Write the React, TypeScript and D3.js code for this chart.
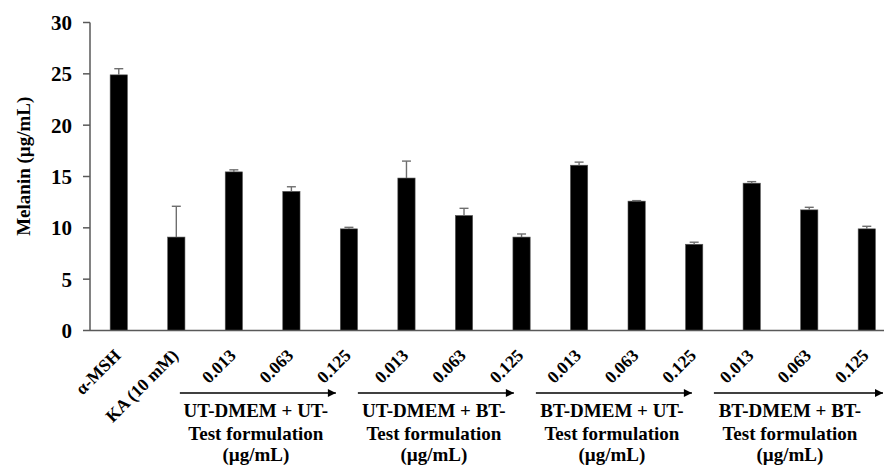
import React from "react";
import * as d3 from "d3";

const categories = [
  "α-MSH", "KA (10 mM)",
  "0.013", "0.063", "0.125",
  "0.013", "0.063", "0.125",
  "0.013", "0.063", "0.125",
  "0.013", "0.063", "0.125",
];
const values = [24.9, 9.1, 15.45, 13.55, 9.9, 14.85, 11.2, 9.1, 16.1, 12.6, 8.4, 14.35, 11.75, 9.9];
const errors = [0.6, 3.0, 0.2, 0.45, 0.15, 1.65, 0.7, 0.3, 0.3, 0.05, 0.2, 0.15, 0.25, 0.25];
const yTicks = [0, 5, 10, 15, 20, 25, 30];
const groupLines1 = ["UT-DMEM + UT-", "UT-DMEM + BT-", "BT-DMEM + UT-", "BT-DMEM + BT-"];
const groupLines2 = ["Test formulation", "Test formulation", "Test formulation", "Test formulation"];
const groupLines3 = ["(µg/mL)", "(µg/mL)", "(µg/mL)", "(µg/mL)"];
const groupFirstIndex = [2, 5, 8, 11];

const W = 884;
const H = 466;
const FONT = "Liberation Serif, Times New Roman, serif";
const ts = { fontFamily: FONT, fontWeight: 700 as const };

export default function App() {
  const x0 = 90;
  const step = 57.54;
  const x = d3
    .scaleBand<number>()
    .domain(d3.range(categories.length))
    .range([x0, x0 + step * categories.length])
    .paddingInner(0.7)
    .paddingOuter(0.35);
  const y = d3.scaleLinear().domain([0, 30]).range([330.5, 22.5]);
  const bw = x.bandwidth();
  const cx = (i: number) => (x(i) as number) + bw / 2;
  const axisColor = "#595959";

  return (
    <svg
      width={W}
      height={H}
      style={{ position: "absolute", left: 0, top: 0, background: "#fff" }}
    >
      <defs>
        <marker id="arr" viewBox="0 0 10 10" refX="10" refY="5" markerWidth="9" markerHeight="8" markerUnits="userSpaceOnUse" orient="auto">
          <path d="M0,0 L10,5 L0,10 z" fill="#000" />
        </marker>
      </defs>

      {/* bars */}
      {values.map((v, i) => (
        <rect
          key={"b" + i}
          x={x(i)}
          y={y(v)}
          width={bw}
          height={y(0) - y(v)}
          fill="#000"
          stroke="#555"
          strokeWidth={0.6}
        />
      ))}
      {/* error bars */}
      {values.map((v, i) => (
        <g key={"e" + i} stroke="#6e6e6e" strokeWidth={1.4}>
          <line x1={cx(i)} x2={cx(i)} y1={y(v)} y2={y(v + errors[i])} />
          <line x1={cx(i) - 4.5} x2={cx(i) + 4.5} y1={y(v + errors[i])} y2={y(v + errors[i])} />
        </g>
      ))}

      {/* y axis */}
      <line x1={x0} x2={x0} y1={y(30)} y2={y(0)} stroke={axisColor} strokeWidth={1.5} />
      {yTicks.map((t) => (
        <g key={"t" + t}>
          <line x1={x0 - 7} x2={x0} y1={y(t)} y2={y(t)} stroke={axisColor} strokeWidth={1.5} />
          <text
            x={x0 - 18}
            y={y(t)}
            dy="0.35em"
            textAnchor="end"
            fontSize={21}
            style={ts}
            fill="#000"
          >
            {t}
          </text>
        </g>
      ))}
      <text
        transform={`translate(23,${y(16)}) rotate(-90)`}
        textAnchor="middle"
        dy="0.35em"
        fontSize={19}
        style={ts}
      >
        Melanin (µg/mL)
      </text>

      {/* x axis */}
      <line x1={x0} x2={W} y1={y(0)} y2={y(0)} stroke={axisColor} strokeWidth={1.5} />
      {categories.map((c, i) => (
        <text
          key={"c" + i}
          transform={`translate(${cx(i) + 3},${y(0) + 26}) rotate(-45)`}
          textAnchor="end"
          fontSize={17.5}
          style={ts}
        >
          {c}
        </text>
      ))}

      {/* group arrows and labels */}
      {groupFirstIndex.map((fi, g) => {
        const start = cx(fi) - 54 + 5.4 * g;
        const end = g === groupFirstIndex.length - 1 ? W - 1 : start + 156;
        const mid = start + 76;
        return (
          <g key={"g" + g}>
            <line x1={start} x2={end} y1={393} y2={393} stroke="#000" strokeWidth={1.3} markerEnd="url(#arr)" />
            <text x={mid} y={417} textAnchor="middle" fontSize={19} style={ts}>{groupLines1[g]}</text>
            <text x={mid} y={439.5} textAnchor="middle" fontSize={19} style={ts}>{groupLines2[g]}</text>
            <text x={mid} y={461} textAnchor="middle" fontSize={19} style={ts}>{groupLines3[g]}</text>
          </g>
        );
      })}
    </svg>
  );
}
